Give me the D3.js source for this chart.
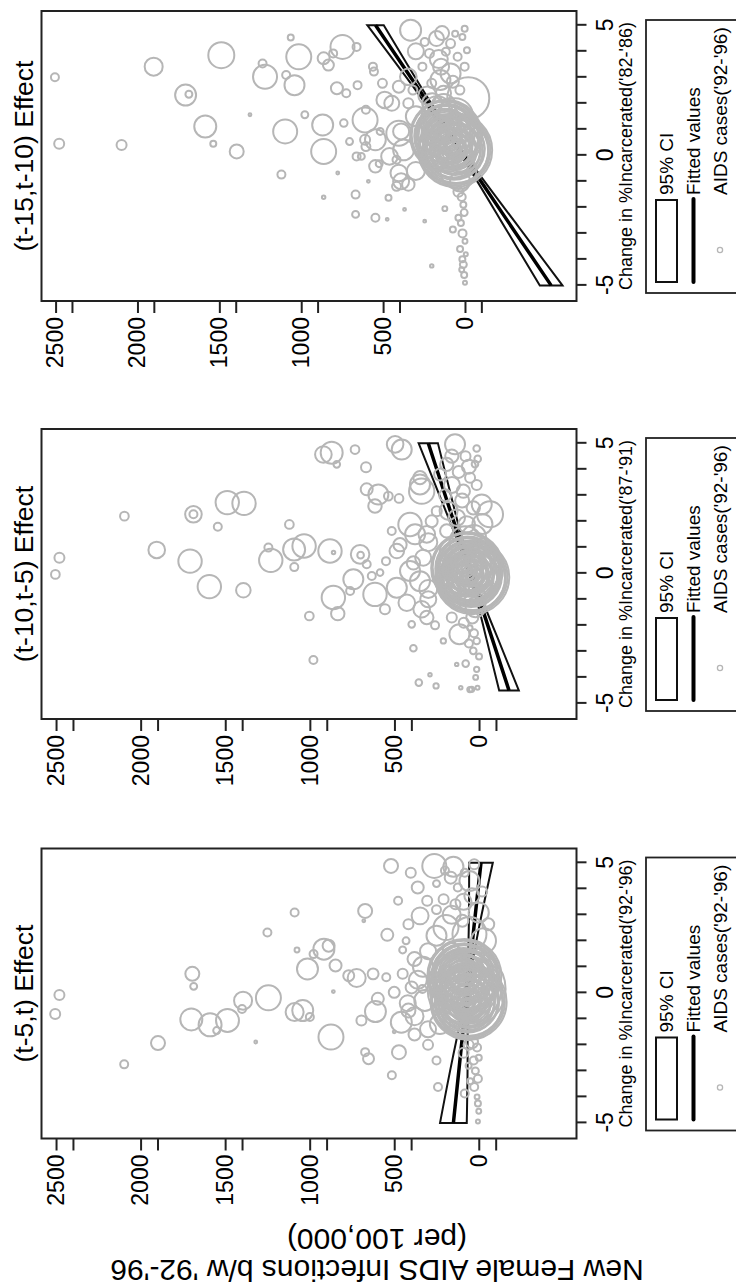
<!DOCTYPE html>
<html>
<head>
<meta charset="utf-8">
<script src="https://cdn.jsdelivr.net/npm/d3@7"></script>
<style>
body { margin: 0; background: #fff; }
svg { display: block; font-family: "Liberation Sans", Arial, sans-serif; }
</style>
</head>
<body>
<div id="chart"></div>
<script>
// panels, left to right in the unrotated figure
var panelTitles = ["(t-5,t) Effect", "(t-10,t-5) Effect", "(t-15,t-10) Effect"];
var periodLabels = ["('92-'96)", "('87-'91)", "('82-'86)"];
var legendLabels = ["95% CI", "Fitted values", "AIDS cases('92-'96)"];
var yTitleLines = ["New Female AIDS Infections b/w '92-'96", "(per 100,000)"];

var valueTicks = [0, 500, 1000, 1500, 2000, 2500];
var offsetTicks = [-100, 400, 900, 1400, 1900, 2400];
var changeTicks = [-5, -4, -3, -2, -1, 0, 1, 2, 3, 4, 5];
var changeLabels = [-5, 0, 5];
var changeDomain = [-5.6, 5.55];
var valueMin = [-578, -576, -681];
var valueMax = 2586;

// fitted line and 95% CI
var fitX = [[-5, -2.5, 0, 2.5, 5], [-4.5, -2.5, 0, 2.5, 5], [-5, -2.5, 0, 2.5, 5]];
var fitY = [[150, 110, 70, 29, -13], [-177, -77, 49, 175, 300], [-526, -258, 10, 278, 546]];
var ciLow = [[71, 66, 58, -1, -83], [-235, -111, 39, 147, 243], [-595, -298, -4, 256, 496]];
var ciHigh = [[229, 154, 82, 59, 57], [-119, -43, 59, 203, 357], [-457, -218, 24, 300, 596]];

// [change in % incarcerated, new AIDS infections, weight]
var casesT5 = [
  [-0.81, 2505, 25], [-0.08, 2480, 25], [-2.75, 2097, 16], [-1.93, 1897, 49],
  [0.73, 1694, 49], [0.25, 1686, 12], [-1.02, 1700, 121], [-1.23, 1589, 132],
  [-1.45, 1550, 12], [-1.06, 1486, 132], [-0.30, 1394, 81], [-0.62, 1400, 16],
  [-1.89, 1319, 2], [-0.19, 1244, 156], [2.32, 1250, 16], [3.09, 1089, 16],
  [-0.74, 1089, 81], [-0.68, 1041, 110], [1.65, 1075, 6], [-0.93, 999, 16],
  [0.92, 1013, 110], [1.49, 977, 16], [1.68, 916, 110], [1.81, 888, 36],
  [-1.70, 874, 156], [0.05, 860, 2], [1.05, 847, 36], [0.66, 769, 30],
  [0.57, 722, 81], [-1.06, 694, 25], [-2.28, 672, 16], [-2.53, 652, 30],
  [3.15, 672, 49], [2.77, 680, 2], [0.73, 625, 30], [-0.72, 611, 110],
  [-0.23, 597, 36], [0.60, 547, 16], [2.23, 541, 36], [4.88, 519, 49],
  [-3.17, 514, 16], [-1.50, 500, 2], [0.02, 500, 30], [3.54, 477, 16],
  [-2.28, 472, 49], [-1.13, 458, 110], [0.73, 450, 25], [1.65, 450, 12],
  [2.00, 430, 12], [-0.68, 416, 49], [0.21, 397, 36], [2.96, 347, 72],
  [0.15, 333, 16], [-0.29, 319, 110], [0.60, 264, 36], [4.88, 263, 144],
  [-3.62, 241, 16], [4.62, 402, 25], [4.05, 361, 36], [3.54, 305, 25],
  [2.64, 416, 25], [-1.6, 380, 36], [-2.0, 300, 25], [-2.6, 250, 16],
  [-1.4, 300, 64], [1.3, 380, 49], [1.6, 300, 64], [-0.9, 380, 81],
  [-0.4, 420, 64], [0.5, 360, 81], [1.0, 330, 100], [-1.2, 230, 100],
  [4.43, 166, 36], [4.30, 55, 100], [3.73, 41, 56], [3.41, 138, 25],
  [3.09, 0, 100], [2.51, 194, 156], [2.26, 55, 289], [2.00, -28, 156],
  [2.77, 97, 36], [1.62, 166, 64], [4.94, 27, 25], [4.62, 83, 16],
  [4.05, 124, 16], [3.60, 208, 25], [2.64, -56, 36], [1.37, 27, 100],
  [4.7, 200, 16], [3.9, -20, 25], [3.2, 250, 20], [4.2, 250, 12],
  [4.85, 150, 100], [3.0, 160, 81], [3.5, 90, 64], [2.2, 250, 100],
  [-3.87, 83, 16], [-3.62, 27, 16], [-4.25, 5, 9], [-4.55, 0, 6],
  [-4.95, 5, 4], [-2.1, 10, 16], [-2.5, 0, 9], [-3.0, 20, 12],
  [-3.3, 5, 16], [-4.0, 10, 6], [-2.8, 60, 9], [-1.9, 40, 36], [-2.3, 90, 25],
  [-2.0, 60, 25], [-2.6, 30, 16], [-3.4, 50, 9],
  [-0.35, 60, 1444], [-0.33, 66, 1260], [-0.38, 55, 1089], [-0.30, 62, 930],
  [-0.36, 70, 784], [-0.32, 58, 650], [-0.40, 66, 529], [-0.28, 72, 420],
  [-0.35, 62, 324], [-0.31, 76, 240], [-0.38, 68, 169], [-0.33, 60, 110],
  [-0.36, 74, 64], [-0.30, 66, 30], [-0.34, 70, 9],
  [-0.34, 63, 1351], [-0.36, 58, 1173], [-0.31, 68, 1008], [-0.37, 61, 856],
  [-0.33, 66, 716], [-0.35, 72, 588], [-0.30, 60, 473], [-0.38, 70, 371],
  [-0.32, 64, 281], [-0.36, 70, 203], [-0.34, 62, 138], [-0.31, 72, 86],
  [-0.35, 66, 46], [-0.33, 68, 18], [-0.36, 64, 3],
  [0.65, 85, 1369], [0.68, 90, 1190], [0.62, 80, 1024], [0.70, 88, 870],
  [0.64, 95, 729], [0.67, 82, 600], [0.60, 92, 484], [0.72, 98, 380],
  [0.65, 86, 289], [0.69, 100, 210], [0.62, 94, 144], [0.66, 88, 90],
  [0.70, 104, 49], [0.64, 96, 20],
  [0.66, 88, 1278], [0.63, 84, 1106], [0.69, 92, 946], [0.64, 90, 798],
  [0.68, 86, 663], [0.62, 96, 541], [0.70, 84, 431], [0.65, 94, 333],
  [0.67, 90, 248], [0.63, 98, 176], [0.69, 88, 116], [0.66, 94, 68],
  [0.64, 90, 33], [0.68, 96, 11],
  [0.15, 72, 1521], [0.18, 78, 1296], [0.12, 66, 1122], [0.20, 74, 961],
  [0.14, 80, 812], [0.17, 70, 676], [0.11, 84, 552], [0.19, 76, 441]
];

var casesT10 = [
  [0.60, 2480, 25], [-0.04, 2504, 19], [2.20, 2096, 19], [0.90, 1905, 69],
  [2.27, 1688, 69], [2.27, 1688, 16], [0.47, 1708, 137], [-0.51, 1594, 137],
  [1.79, 1544, 16], [2.72, 1488, 137], [2.69, 1389, 137], [-0.65, 1393, 53],
  [0.99, 1245, 16], [0.50, 1231, 137], [1.88, 1121, 19], [0.92, 1093, 121],
  [1.05, 1034, 137], [0.24, 1092, 16], [-1.64, 1003, 19], [-3.33, 979, 16],
  [4.57, 920, 69], [4.64, 871, 121], [4.19, 841, 11], [4.76, 733, 19],
  [4.08, 668, 25], [3.23, 664, 36], [3.03, 595, 100], [2.59, 615, 45],
  [2.97, 536, 19], [2.88, 473, 19], [0.86, 881, 137], [0.80, 860, 3],
  [0.73, 703, 86], [0.70, 700, 11], [-0.93, 861, 137], [-1.55, 835, 45],
  [-0.23, 743, 100], [-0.68, 762, 16], [0.35, 664, 16], [-0.10, 634, 16],
  [0.03, 585, 11], [-0.81, 615, 137], [-1.38, 556, 25], [0.47, 550, 16],
  [1.63, 516, 16], [-0.55, 486, 100], [0.86, 486, 53], [1.10, 467, 44],
  [-1.13, 427, 69], [1.88, 408, 137], [0.09, 408, 100], [0.40, 388, 44],
  [-1.96, 398, 11], [-2.88, 388, 11], [-4.20, 356, 11], [3.42, 349, 100],
  [-0.30, 349, 100], [-1.38, 339, 69], [-1.70, 309, 45], [-3.90, 290, 3],
  [-4.33, 254, 7], [-2.60, 211, 7], [-3.50, 132, 3], [-1.70, 161, 25],
  [-2.34, 116, 100], [-4.40, 108, 3], [-2.0, 260, 16], [-1.0, 300, 64],
  [1.2, 300, 81], [0.6, 330, 64], [-0.6, 300, 81],
  [4.96, 496, 69], [4.76, 457, 100], [4.96, 142, 100], [4.51, 161, 44],
  [4.80, 14, 11], [4.40, 8, 11], [3.16, 339, 160], [3.68, 349, 44],
  [4.19, 191, 44], [3.80, 230, 36], [2.39, 250, 25], [2.00, 280, 36],
  [1.50, 309, 69], [1.50, 378, 100], [3.16, 93, 44], [3.68, 53, 25],
  [2.52, 34, 44], [2.14, 132, 69], [1.63, 191, 44], [1.88, 73, 69],
  [2.27, -65, 169], [2.65, -16, 100], [3.40, 14, 25], [4.20, 24, 11],
  [4.5, 80, 25], [3.9, 120, 36], [3.0, 200, 36], [2.8, 100, 49],
  [4.1, 60, 49], [3.4, 160, 64], [2.4, 180, 81], [1.9, -20, 100],
  [-3.47, 79, 11], [-4.47, 54, 7], [-4.46, 44, 7], [-4.40, 9, 4],
  [-3.69, 14, 7], [-2.98, 34, 11], [-2.60, 14, 11], [-2.10, 54, 7],
  [-3.2, 0, 9], [-4.0, 20, 6], [-1.9, 90, 25], [-2.7, 60, 16],
  [-1.7, 40, 36], [-2.3, 30, 16],
  [-0.15, 40, 1369], [-0.12, 46, 1190], [-0.18, 36, 1024], [-0.10, 44, 870],
  [-0.16, 50, 729], [-0.13, 38, 600], [-0.20, 48, 484], [-0.09, 54, 380],
  [-0.15, 42, 289], [-0.11, 56, 210], [-0.18, 46, 144], [-0.14, 40, 90],
  [-0.12, 52, 49], [-0.16, 48, 20],
  [-0.14, 43, 1278], [-0.17, 39, 1106], [-0.11, 47, 946], [-0.16, 45, 798],
  [-0.12, 41, 663], [-0.18, 51, 541], [-0.10, 39, 431], [-0.15, 49, 333],
  [-0.13, 45, 248], [-0.17, 53, 176], [-0.11, 43, 116], [-0.14, 49, 68],
  [-0.16, 45, 33], [-0.12, 51, 11],
  [0.20, 70, 1296], [0.23, 76, 1122], [0.17, 64, 961], [0.25, 72, 812],
  [0.19, 80, 676], [0.22, 66, 552], [0.15, 78, 441], [0.27, 84, 342],
  [0.20, 72, 256], [0.24, 88, 182], [0.17, 80, 121], [0.21, 74, 72],
  [0.25, 90, 36], [0.19, 82, 12],
  [0.21, 73, 1208], [0.18, 68, 1040], [0.24, 78, 885], [0.19, 75, 743],
  [0.23, 70, 613], [0.17, 82, 495], [0.25, 68, 390], [0.20, 80, 298],
  [0.22, 75, 218], [0.18, 86, 150], [0.24, 77, 95], [0.21, 83, 53],
  [0.19, 78, 23],
  [1.2, 80, 256], [-1.0, 40, 196], [-1.3, 20, 100], [0.8, 150, 196],
  [-0.6, 130, 144], [1.4, 30, 144]
];

var casesT15 = [
  [3.00, 2504, 16], [0.45, 2478, 25], [0.40, 2097, 25], [3.41, 1901, 81],
  [2.32, 1706, 110], [2.35, 1686, 12], [1.11, 1586, 121], [0.45, 1537, 9],
  [3.85, 1488, 169], [0.15, 1394, 49], [1.56, 1313, 2], [3.53, 1236, 16],
  [3.02, 1221, 144], [-0.74, 1121, 16], [0.92, 1098, 144], [3.09, 1092, 16],
  [4.53, 1064, 9], [2.70, 1041, 100], [3.79, 1015, 156], [1.56, 978, 12],
  [-1.61, 863, 3], [0.15, 863, 156], [1.17, 869, 110], [3.73, 863, 36],
  [3.47, 834, 30], [3.92, 805, 16], [2.58, 782, 36], [-0.68, 777, 2],
  [4.17, 748, 144], [1.24, 740, 14], [2.39, 725, 16], [0.53, 705, 12],
  [-1.51, 668, 16], [-2.27, 668, 12], [2.70, 656, 16], [4.17, 662, 16],
  [-0.04, 633, 12], [1.36, 610, 156], [0.60, 610, 25], [1.75, 605, 16],
  [-1.0, 590, 2], [-2.40, 547, 16], [3.22, 556, 16], [-0.32, 524, 12],
  [0.92, 518, 12], [-1.63, 467, 9], [-2.46, 475, 2], [2.0, 447, 56],
  [-0.17, 418, 16], [-1.0, 390, 64], [0.92, 390, 64], [-2.08, 369, 2],
  [2.0, 346, 25], [4.81, 332, 110], [-2.53, 246, 2], [-4.25, 203, 3],
  [-2.05, 123, 6], [-2.85, 74, 9], [-3.99, 16, 9], [4.87, 2, 9],
  [0.60, 547, 108], [0.85, 404, 156], [0.21, 375, 108], [-0.04, 461, 69],
  [-0.42, 547, 39], [-0.68, 404, 69], [-0.04, 662, 16], [0.34, 605, 20],
  [-1.12, 346, 39], [-1.19, 418, 20], [2.13, 490, 69], [2.64, 404, 36],
  [3.02, 346, 69], [2.77, 504, 20], [3.41, 562, 16],
  [4.49, 174, 56], [3.92, 217, 20], [3.41, 146, 64], [4.30, 88, 20],
  [3.79, 45, 16], [4.55, 16, 9], [2.77, 203, 20], [2.39, 131, 56],
  [2.83, 74, 36], [3.41, 2, 16], [2.51, 31, 20], [4.36, 246, 16],
  [3.98, 117, 16], [4.04, -12, 9], [4.68, 60, 9], [3.41, 260, 16],
  [2.51, 318, 20], [3.15, 88, 100], [2.2, -20, 441],
  [4.0, 300, 64], [3.7, 160, 81], [2.9, 150, 100], [4.7, 140, 49],
  [2.3, 230, 81], [1.5, 300, 100], [-0.6, 300, 81],
  [-1.6, 20, 16], [-1.9, 10, 9], [-2.2, 5, 12], [-2.6, 25, 9],
  [-3.0, 15, 16], [-3.3, 0, 6], [-3.6, 30, 9], [-4.2, 10, 12],
  [-4.4, 20, 6], [-4.6, 5, 9], [-4.9, 0, 4], [-3.8, -5, 4],
  [-1.4, 40, 25], [-2.4, 40, 9],
  [0.20, 60, 1369], [0.23, 66, 1190], [0.17, 54, 1024], [0.25, 62, 870],
  [0.19, 70, 729], [0.22, 56, 600], [0.15, 68, 484], [0.27, 74, 380],
  [0.20, 62, 289], [0.24, 78, 210], [0.17, 66, 144], [0.21, 60, 90],
  [0.25, 72, 49], [0.19, 68, 20],
  [0.21, 63, 1278], [0.18, 58, 1106], [0.24, 67, 946], [0.19, 65, 798],
  [0.23, 60, 663], [0.17, 71, 541], [0.25, 58, 431], [0.20, 69, 333],
  [0.22, 64, 248], [0.18, 73, 176], [0.24, 63, 116], [0.21, 69, 68],
  [0.19, 65, 33], [0.23, 71, 11],
  [0.75, 115, 1296], [0.78, 121, 1122], [0.72, 109, 961], [0.80, 117, 812],
  [0.74, 125, 676], [0.77, 111, 552], [0.70, 123, 441], [0.82, 129, 342],
  [0.75, 117, 256], [0.79, 133, 182], [0.72, 125, 121], [0.76, 119, 72],
  [0.80, 135, 36], [0.74, 127, 12],
  [0.76, 118, 1208], [0.73, 113, 1040], [0.79, 123, 885], [0.74, 120, 743],
  [0.78, 115, 613], [0.72, 127, 495], [0.80, 113, 390], [0.75, 125, 298],
  [0.77, 120, 218], [0.73, 131, 150], [0.79, 122, 95], [0.76, 128, 53],
  [0.74, 123, 23],
  [1.3, 150, 400], [1.7, 170, 225], [1.9, 130, 144], [-0.6, 40, 324],
  [-1.0, 30, 100], [1.0, 200, 256], [0.0, 180, 196], [-0.3, 200, 100],
  [1.5, 60, 324], [2.0, 200, 100]
];

var panelCases = [casesT5, casesT10, casesT15];

// layout of the unrotated (landscape) figure
var figW = 1288, figH = 736;
var panelLeft = [149.5, 569, 987];
var panelW = 290;
var plotTop = 41.5, plotBottom = 576.5;
var grey = "#b6b6b6";

var svg = d3.select("#chart").append("svg")
  .attr("width", 736)
  .attr("height", 1288);

svg.append("rect").attr("width", 736).attr("height", 1288).attr("fill", "#fff");

// the whole figure is turned a quarter turn counter-clockwise
var g = svg.append("g")
  .attr("transform", "translate(0," + figW + ") rotate(-90)");

var rScale = d3.scaleSqrt().domain([0, 1600]).range([0, 40]);

panelTitles.forEach(function(title, i) {
  var x0 = panelLeft[i];
  var xScale = d3.scaleLinear().domain(changeDomain).range([x0, x0 + panelW]);
  var yScale = d3.scaleLinear().domain([valueMin[i], valueMax]).range([plotBottom, plotTop]);
  var pg = g.append("g");

  var fit = fitX[i].map(function(x, j) {
    return {x: x, fit: fitY[i][j], lo: ciLow[i][j], hi: ciHigh[i][j]};
  });

  // 95% CI band
  var band = d3.area()
    .x(function(d) { return xScale(d.x); })
    .y0(function(d) { return yScale(d.lo); })
    .y1(function(d) { return yScale(d.hi); })
    .curve(d3.curveNatural);
  pg.append("path")
    .attr("d", band(fit))
    .attr("fill", "none")
    .attr("stroke", "#111")
    .attr("stroke-width", 2);

  // fitted values
  var line = d3.line()
    .x(function(d) { return xScale(d.x); })
    .y(function(d) { return yScale(d.fit); });
  pg.append("path")
    .attr("d", line(fit))
    .attr("fill", "none")
    .attr("stroke", "#000")
    .attr("stroke-width", 3.5);

  // AIDS cases, hollow circles weighted by size
  pg.append("g").selectAll("circle")
    .data(panelCases[i])
    .join("circle")
    .attr("cx", function(d) { return xScale(d[0]); })
    .attr("cy", function(d) { return yScale(d[1]); })
    .attr("r", function(d) { return rScale(d[2]); })
    .attr("fill", "none")
    .attr("stroke", grey)
    .attr("stroke-width", 2);

  pg.append("rect")
    .attr("x", x0).attr("y", plotTop)
    .attr("width", panelW).attr("height", plotBottom - plotTop)
    .attr("fill", "none")
    .attr("stroke", "#222")
    .attr("stroke-width", 2);

  // value axis
  pg.append("g")
    .attr("transform", "translate(" + x0 + ",0)")
    .call(d3.axisLeft(yScale).tickValues(valueTicks).tickSize(12).tickPadding(4)
      .tickFormat(function(d) { return String(d); }));
  pg.append("g")
    .attr("transform", "translate(" + x0 + ",0)")
    .call(d3.axisLeft(yScale).tickValues(offsetTicks).tickSize(12).tickFormat(""));

  // change axis
  pg.append("g")
    .attr("transform", "translate(0," + plotBottom + ")")
    .call(d3.axisBottom(xScale).tickValues(changeTicks).tickSize(10).tickPadding(10)
      .tickFormat(function(d) { return changeLabels.indexOf(d) >= 0 ? String(d) : ""; }));

  pg.selectAll(".domain").remove();
  pg.selectAll(".tick line").attr("stroke", "#222").attr("stroke-width", 2);
  pg.selectAll(".tick text").attr("fill", "#000").style("font-size", "23px")
    .style("font-family", "'Liberation Sans', Arial, sans-serif");

  pg.append("text")
    .attr("x", x0 + panelW / 2)
    .attr("y", 33)
    .attr("text-anchor", "middle")
    .style("font-size", "26.5px")
    .text(title);

  pg.append("text")
    .attr("x", x0 + panelW / 2)
    .attr("y", 632)
    .attr("text-anchor", "middle")
    .style("font-size", "18px")
    .text("Change in %Incarcerated" + periodLabels[i]);

  // legend
  var lg = pg.append("g");
  lg.append("rect")
    .attr("x", x0 + 8).attr("y", 646)
    .attr("width", 273).attr("height", 120)
    .attr("fill", "#fff")
    .attr("stroke", "#222")
    .attr("stroke-width", 1.8);
  lg.append("rect")
    .attr("x", x0 + 19).attr("y", 656)
    .attr("width", 82).attr("height", 21)
    .attr("fill", "#fff")
    .attr("stroke", "#111")
    .attr("stroke-width", 2);
  lg.append("line")
    .attr("x1", x0 + 19).attr("x2", x0 + 102)
    .attr("y1", 693.5).attr("y2", 693.5)
    .attr("stroke", "#000")
    .attr("stroke-width", 4)
    .attr("stroke-linecap", "round");
  lg.append("circle")
    .attr("cx", x0 + 51).attr("cy", 720)
    .attr("r", 2.6)
    .attr("fill", "none")
    .attr("stroke", grey)
    .attr("stroke-width", 1.3);
  lg.selectAll("text.lab")
    .data(legendLabels)
    .join("text")
    .attr("class", "lab")
    .attr("x", x0 + 106)
    .attr("y", function(d, j) { return [673, 700, 727][j]; })
    .style("font-size", "19px")
    .text(function(d) { return d; });
});

// shared y title
g.selectAll("text.ytitle")
  .data(yTitleLines)
  .join("text")
  .attr("class", "ytitle")
  .attr("transform", function(d, j) {
    return "translate(" + [28.5, 59][j] + ",377) rotate(-90)";
  })
  .attr("text-anchor", "middle")
  .style("font-size", "30px")
  .text(function(d) { return d; });
</script>
</body>
</html>
